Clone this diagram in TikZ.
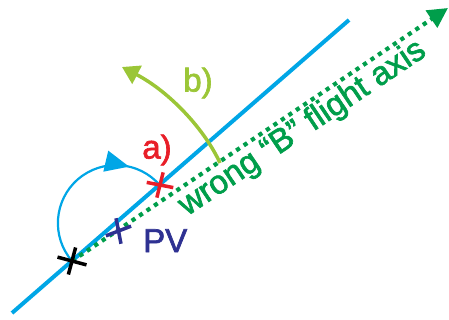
\documentclass[tikz,border=0pt]{standalone}
\usepackage{fontspec}
\setmainfont[FakeBold=2]{Liberation Sans}
\usetikzlibrary{arrows.meta,decorations.markings,calc}
\definecolor{cyanline}{RGB}{0,166,230}
\definecolor{axisgreen}{RGB}{0,158,75}
\definecolor{bgreen}{RGB}{155,198,55}
\definecolor{redx}{RGB}{232,30,40}
\definecolor{pvblue}{RGB}{46,49,146}
\begin{document}
\begin{tikzpicture}[x=1pt,y=1pt,
  crossline/.style={line width=3.5pt},
  lbl/.style={inner sep=0pt, font=\fontsize{33}{36}\selectfont}]
\useasboundingbox (0,0) rectangle (449,-320);
\coordinate (L1) at (12,-313);
\coordinate (L2) at (349,-20);
\coordinate (K) at (72,-261);
\coordinate (R) at (160,-185);
\coordinate (P) at (118.5,-231);
\coordinate (T) at (448,-8);
\coordinate (bS) at (220,-163);
\coordinate (bE) at (122,-67);
% blue line
\draw[cyanline, line width=4pt] (L1) -- (L2);
% dotted flight axis
\draw[axisgreen, line width=4.2pt, dash pattern=on 4.2pt off 4.8pt,
  -{Triangle[length=20pt,width=20pt]}] (K) -- (T);
% arc a)
\draw[cyanline, line width=2.2pt, postaction={decorate},
  decoration={markings, mark=at position 0.8 with {\arrow{Triangle[length=24pt,width=21pt]}}}]
  (K) arc[start angle=220.8, end angle=40.8, radius=58pt];
% arc b)
\draw[bgreen, line width=3.5pt, -{Triangle[length=17pt,width=20pt]}]
  (bS) .. controls (205,-130) and (170,-92) .. (bE);
% crosses
\draw[black, crossline] ($(K)+(-15:15)$) -- ($(K)+(165:15)$)
  ($(K)+(75:14)$) -- ($(K)+(255:14)$);
\draw[redx, crossline] ($(R)+(-11:13.5)$) -- ($(R)+(169:13.5)$)
  ($(R)+(76:13)$) -- ($(R)+(256:13)$);
\draw[pvblue, crossline] ($(P)+(21:13.5)$) -- ($(P)+(201:13.5)$)
  ($(P)+(-79:13)$) -- ($(P)+(101:13)$);
% labels
\node[lbl, text=redx] (a) at (157,-150) {a)};
\node[lbl, text=bgreen] (b) at (198,-83) {b)};
\node[lbl, text=pvblue, anchor=base west] (pv) at (143,-252) {PV};
\node[lbl, text=axisgreen, anchor=base west, rotate=33.9] (ax) at (187,-216.5) {wrong “B” flight axis};
\end{tikzpicture}
\end{document}
